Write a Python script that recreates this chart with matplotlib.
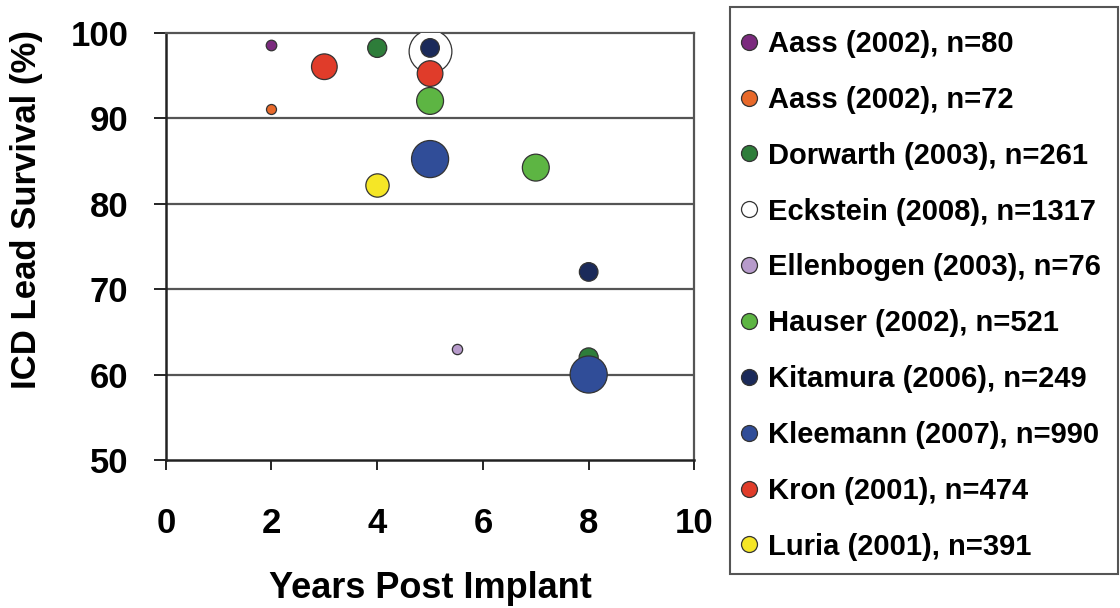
import matplotlib.pyplot as plt
from matplotlib.lines import Line2D
from matplotlib.patches import Rectangle

plt.rcParams['font.family'] = ['Liberation Sans', 'DejaVu Sans']
plt.rcParams['font.weight'] = 'bold'

# studies in legend order
studies = ["Aass (2002)", "Aass (2002)", "Dorwarth (2003)", "Eckstein (2008)",
           "Ellenbogen (2003)", "Hauser (2002)", "Kitamura (2006)",
           "Kleemann (2007)", "Kron (2001)", "Luria (2001)"]
n_patients = [80, 72, 261, 1317, 76, 521, 249, 990, 474, 391]
colors = ["#7b2a7e", "#e8692a", "#2e7d3a", "#ffffff", "#b79bcb",
          "#5db543", "#1b2a5a", "#304d98", "#e03c2a", "#f5e626"]

# years post implant and survival (%) per study
years = [[2], [2], [4, 8], [5], [5.5], [5, 7], [5, 8], [5, 8], [3, 5], [4]]
survival = [[98.5], [91], [98.2, 62], [97.8], [63], [92, 84.2],
            [98.2, 72], [85.2, 60], [96, 95.2], [82.2]]


def main():
    fig = plt.figure(figsize=(11.2, 6.08), dpi=100)
    ax = fig.add_axes([0.148, 0.2434, 0.472, 0.7031])

    for i in range(len(studies)):
        ax.scatter(years[i], survival[i], s=[n_patients[i] * 0.72] * len(years[i]),
                   color=colors[i], edgecolors="#333333", linewidths=0.9,
                   zorder=3 + i)

    ax.set_xlim(0, 10)
    ax.set_ylim(50, 100)
    ax.set_xticks(range(0, 11, 2))
    ax.set_yticks(range(50, 101, 10))
    for y in range(60, 100, 10):
        ax.axhline(y, color="#555555", lw=1.6, zorder=1)
    for side in ["top", "right"]:
        ax.spines[side].set_color("#555555")
        ax.spines[side].set_linewidth(1.6)
    for side in ["left", "bottom"]:
        ax.spines[side].set_color("#222222")
        ax.spines[side].set_linewidth(1.8)
    ax.tick_params(axis="x", direction="out", length=7, width=1.2,
                   labelsize=25, pad=27)
    ax.tick_params(axis="y", direction="out", length=9, width=1.2,
                   labelsize=25, pad=18)
    for lab in ax.get_xticklabels() + ax.get_yticklabels():
        lab.set_fontweight("bold")

    ax.set_xlabel("Years Post Implant", fontsize=26, fontweight="bold", labelpad=22)
    ax.set_ylabel("ICD Lead Survival (%)", fontsize=25, fontweight="bold")
    ax.yaxis.set_label_coords(-0.232, 0.585)

    # legend frame drawn separately so the padding can match the original
    fig.patches.append(Rectangle((730 / 1120, 1 - 574 / 608), 388 / 1120, 567 / 608,
                                 transform=fig.transFigure, fill=False,
                                 edgecolor="#555555", linewidth=1.5))

    handles = [Line2D([], [], marker="o", linestyle="none", markersize=11.5,
                      markerfacecolor=c, markeredgecolor="#333333",
                      markeredgewidth=0.9) for c in colors]
    labels = [f"{s}, n={n}" for s, n in zip(studies, n_patients)]
    leg = fig.legend(handles, labels, loc="upper left",
                     bbox_to_anchor=(740 / 1120, 1 - 30 / 608), fontsize=21,
                     frameon=False, labelspacing=0.955,
                     handletextpad=0.36, handlelength=0.6, borderpad=0,
                     borderaxespad=0)
    for t in leg.get_texts():
        t.set_fontweight("bold")

    fig.savefig("out.png", dpi=100)


if __name__ == "__main__":
    main()
